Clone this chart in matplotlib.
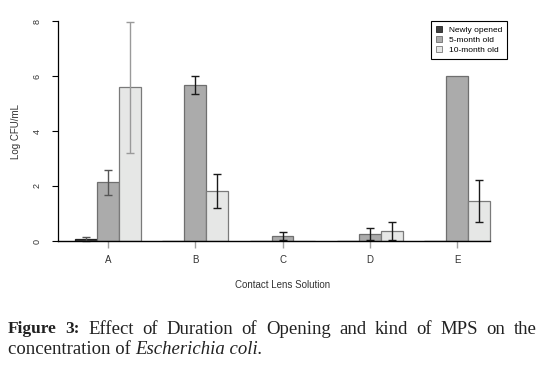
import numpy as np
import matplotlib
matplotlib.use("Agg")
import matplotlib.pyplot as plt
from matplotlib.patches import Patch

# data (log CFU/mL)
solutions = ["A", "B", "C", "D", "E"]
series = ["Newly opened", "5-month old", "10-month old"]
newly = [0.08, 0.0, 0.0, 0.0, 0.0]
newly_err = [0.08, 0.0, 0.0, 0.0, 0.0]
five_month = [2.13, 5.66, 0.17, 0.25, 6.0]
five_month_err = [0.45, 0.33, 0.15, 0.21, 0.0]
ten_month = [5.59, 1.81, 0.0, 0.36, 1.46]
ten_month_err = [2.38, 0.62, 0.0, 0.33, 0.77]

colors = ["#3f3f3f", "#ababab", "#e6e7e6"]
edges = ["#222222", "#6f6f6f", "#7a7a7a"]

plt.rcParams["font.family"] = ["Liberation Sans", "DejaVu Sans"]

fig = plt.figure(figsize=(5.4, 3.65), dpi=100)
ax = fig.add_axes([58 / 540, 124 / 365, 449 / 540, 220 / 365])

values = [newly, five_month, ten_month]
errs = [newly_err, five_month_err, ten_month_err]
n = len(solutions)
# R barplot layout: width 1, one bar gap between groups
group_start = np.arange(n) * 4 + 1
for k in range(3):
    x = group_start + k + 0.5
    ax.bar(x, values[k], width=1.0, color=colors[k], edgecolor=edges[k],
           linewidth=0.9, zorder=2)
    for i in range(n):
        if errs[k][i] <= 0:
            continue
        ec = "#9a9a9a" if i == 0 and k == 2 else ("#555555" if i == 0 else "#1a1a1a")
        ax.errorbar(x[i], values[k][i], yerr=errs[k][i], fmt="none",
                    ecolor=ec, elinewidth=1.0, capsize=2.9, capthick=1.0,
                    zorder=3, clip_on=False)

centers = group_start + 1.5
ax.set_xlim(0.22, 20.78)
ax.set_ylim(0, 8)

# baseline like R barplot
ax.plot([0.22, 20], [0, 0], color="black", lw=1.0, zorder=4, clip_on=False)

for s in ["top", "right", "bottom"]:
    ax.spines[s].set_visible(False)
ax.spines["left"].set_bounds(0, 8)
ax.spines["left"].set_linewidth(0.9)

ax.set_yticks([0, 2, 4, 6, 8])
ax.set_yticklabels(["0", "2", "4", "6", "8"], rotation=90, va="center")
ax.tick_params(axis="y", length=4, width=0.8, labelsize=6.5, pad=8,
               labelcolor="#333333")
ax.set_xticks(centers)
ax.set_xticklabels(solutions)
ax.tick_params(axis="x", length=5, width=1.0, color="#a0a0a0", labelsize=7,
               pad=5, labelcolor="#333333")

ax.set_ylabel("Log CFU/mL", fontsize=7, color="#333333", labelpad=8)
ax.set_xlabel("Contact Lens Solution", fontsize=7, color="#333333", labelpad=11)

handles = [Patch(facecolor=colors[k], edgecolor=edges[k], linewidth=0.6)
           for k in range(3)]
leg = ax.legend(handles, series, loc="upper right", bbox_to_anchor=(1.0, 1.0),
                borderaxespad=0, fancybox=False, framealpha=1, fontsize=6,
                handlelength=0.7, handleheight=0.7, handletextpad=0.8,
                labelspacing=0.25, borderpad=0.6)
leg.get_frame().set_edgecolor("black")
leg.get_frame().set_linewidth(0.8)

# caption
fig.canvas.draw()
renderer = fig.canvas.get_renderer()
cap_font = ["Liberation Serif", "DejaVu Serif"]
cap_size = 13.5
left_px, right_px = 8, 537
line1 = [("Figure", "bold"), ("3:", "bold"), ("Effect", "normal"), ("of", "normal"),
         ("Duration", "normal"), ("of", "normal"), ("Opening", "normal"),
         ("and", "normal"), ("kind", "normal"), ("of", "normal"), ("MPS", "normal"),
         ("on", "normal"), ("the", "normal")]
y1 = 1 - 329 / 365
texts = []
widths = []
for w, weight in line1:
    t = fig.text(0, y1, w, fontsize=cap_size if weight == "normal" else 12.5,
                 family=cap_font, weight=weight,
                 va="center", ha="left", color="#222222")
    texts.append(t)
    widths.append(t.get_window_extent(renderer).width)
gap = (right_px - left_px - sum(widths)) / (len(widths) - 1)
xpos = left_px
for t, wd in zip(texts, widths):
    t.set_x(xpos / 540)
    xpos += wd + gap

y2 = 1 - 350 / 365
t1 = fig.text(left_px / 540, y2, "concentration of ", fontsize=cap_size,
              family=cap_font, va="center", ha="left", color="#222222")
w1 = t1.get_window_extent(renderer).width
fig.text((left_px + w1) / 540, y2, "Escherichia coli.", fontsize=cap_size,
         family=cap_font, style="italic", va="center", ha="left", color="#222222")

fig.savefig("out.png", dpi=100)
